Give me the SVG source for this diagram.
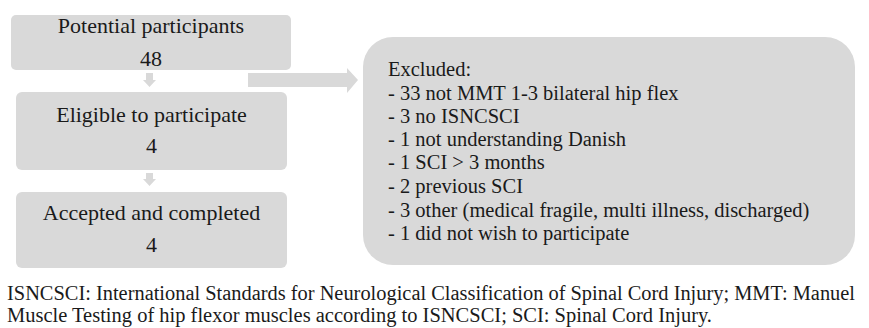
<svg xmlns="http://www.w3.org/2000/svg" width="869" height="328" viewBox="0 0 869 328">
<style>
.box{fill:#d9d9d9}
.arr{fill:#d9d9d9}
.t{font-size:22px;text-anchor:middle;font-family:'Liberation Serif',serif;fill:#1a1a1a}
.e{font-size:20.5px;font-family:'Liberation Serif',serif;fill:#1a1a1a}
.c{font-size:20px;font-family:'Liberation Serif',serif;fill:#1a1a1a}
</style>
<rect width="869" height="328" fill="#ffffff"/>
<g id="connectors">
<path class="arr" d="M146,73 H153 V80 H156 L149.5,87 L143,80 H146 Z"/>
<path class="arr" d="M146,173 H153 V179 H156 L149.5,186 L143,179 H146 Z"/>
<path class="arr" d="M248,73 H347 V68 L358,80 L347,93 V87 H248 Z"/>
</g>
<g id="potential">
<rect class="box" x="11" y="15" width="280" height="55" rx="5"/>
<text class="t" x="151" y="33">Potential participants</text>
<text class="t" x="151" y="66">48</text>
</g>
<g id="eligible">
<rect class="box" x="16" y="92" width="271" height="78" rx="6"/>
<text class="t" x="151.5" y="122">Eligible to participate</text>
<text class="t" x="151.5" y="153">4</text>
</g>
<g id="accepted">
<rect class="box" x="16" y="192" width="271" height="76" rx="6"/>
<text class="t" x="151.5" y="220">Accepted and completed</text>
<text class="t" x="151.5" y="252">4</text>
</g>
<g id="excluded">
<rect class="box" x="363" y="37" width="492" height="228" rx="30"/>
<text class="e" x="388" y="76">Excluded:</text>
<text class="e" x="388" y="99.5">- 33 not MMT 1-3 bilateral hip flex</text>
<text class="e" x="388" y="122.5">- 3 no ISNCSCI</text>
<text class="e" x="388" y="146">- 1 not understanding Danish</text>
<text class="e" x="388" y="169">- 1 SCI &gt; 3 months</text>
<text class="e" x="388" y="193">- 2 previous SCI</text>
<text class="e" x="388" y="216.5">- 3 other (medical fragile, multi illness, discharged)</text>
<text class="e" x="388" y="240">- 1 did not wish to participate</text>
</g>
<g id="caption">
<text class="c" x="7" y="300" textLength="848" lengthAdjust="spacingAndGlyphs">ISNCSCI: International Standards for Neurological Classification of Spinal Cord Injury; MMT: Manuel</text>
<text class="c" x="7" y="322" textLength="705" lengthAdjust="spacingAndGlyphs">Muscle Testing of hip flexor muscles according to ISNCSCI; SCI: Spinal Cord Injury.</text>
</g>
</svg>
